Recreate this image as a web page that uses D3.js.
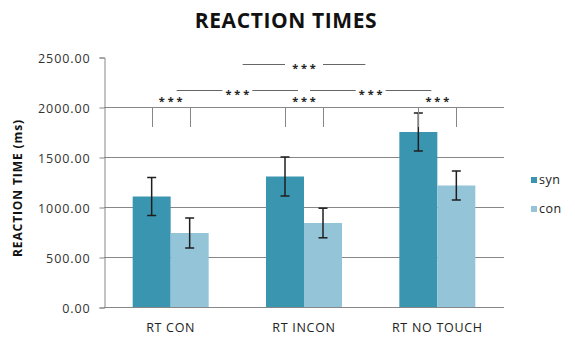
<!DOCTYPE html>
<html>
<head>
<meta charset="utf-8">
<script src="https://cdn.jsdelivr.net/npm/d3@7"></script>
<style>
  html, body { margin: 0; padding: 0; background: #fff; }
  svg { display: block; }
  text { font-family: "Open Sans", "DejaVu Sans", sans-serif; }
</style>
</head>
<body>
<svg id="chart" width="575" height="340"></svg>
<script>
// Mean reaction times (ms) per condition, with error margins
const categories = ["RT CON", "RT INCON", "RT NO TOUCH"];
const seriesNames = ["syn", "con"];
const synValues = [1105, 1305, 1750];
const conValues = [740, 840, 1215];
const synErrors = [190, 195, 190];
const conErrors = [150, 148, 145];
const yTicks = [0, 500, 1000, 1500, 2000, 2500];
const colors = ["#3a96b0", "#93c4d7"];

// Significance brackets: pairs of bars compared, and group-level comparisons
const pairSigLabel = "* * *";
const groupComparisons = [
  { from: 0, to: 1, level: 2170, inset: 6, gap: 15 },
  { from: 1, to: 2, level: 2170, inset: 6, gap: 15 },
  { from: 0, to: 2, level: 2430, inset: 72, gap: 19 }
];

const svg = d3.select("#chart");
const margin = { left: 104, right: 71, top: 57, bottom: 33 };
const W = 575, H = 340;

const x = d3.scaleBand()
  .domain(categories)
  .range([margin.left, W - margin.right])
  .paddingInner(0.43)
  .paddingOuter(0.215);

const xSub = d3.scaleBand()
  .domain(seriesNames)
  .range([0, x.bandwidth()]);

const y = d3.scaleLinear()
  .domain([0, 2500])
  .range([H - margin.bottom, margin.top]);

// Horizontal gridlines (no line at the top value)
svg.append("g")
  .selectAll("line")
  .data(yTicks.filter(t => t > 0 && t < 2500))
  .join("line")
  .attr("x1", margin.left)
  .attr("x2", W - margin.right)
  .attr("y1", d => Math.round(y(d)) + 0.5)
  .attr("y2", d => Math.round(y(d)) + 0.5)
  .attr("stroke", "#878787")
  .attr("stroke-width", 1);

// Y axis
const yAxis = d3.axisLeft(y)
  .tickValues(yTicks)
  .tickFormat(d3.format(".2f"))
  .tickSize(5)
  .tickPadding(9);
const gy = svg.append("g")
  .attr("transform", `translate(${margin.left + 0.5},0.5)`)
  .call(yAxis);
gy.select(".domain").attr("stroke", "#878787");
gy.selectAll(".tick line").attr("stroke", "#878787");
gy.selectAll(".tick text")
  .attr("fill", "#333")
  .attr("dy", "0.36em")
  .style("font-size", "12.5px")
  .style("letter-spacing", "0.9px")
  .style("font-family", "'Open Sans', sans-serif");

// Bars
const data = categories.map((c, i) => ({
  cat: c,
  values: [
    { s: "syn", v: synValues[i], e: synErrors[i] },
    { s: "con", v: conValues[i], e: conErrors[i] }
  ]
}));

const groups = svg.append("g")
  .selectAll("g")
  .data(data)
  .join("g")
  .attr("transform", d => `translate(${x(d.cat)},0)`);

groups.selectAll("rect")
  .data(d => d.values)
  .join("rect")
  .attr("x", d => xSub(d.s))
  .attr("width", xSub.bandwidth())
  .attr("y", d => y(d.v))
  .attr("height", d => y(0) - y(d.v))
  .attr("fill", (d, i) => colors[i]);

// Error bars
const cap = 4.5;
const eb = groups.selectAll("g.err")
  .data(d => d.values)
  .join("g")
  .attr("class", "err")
  .attr("stroke", "#1e1e1e")
  .attr("stroke-width", 1.5);
eb.append("line")
  .attr("x1", d => xSub(d.s) + xSub.bandwidth() / 2)
  .attr("x2", d => xSub(d.s) + xSub.bandwidth() / 2)
  .attr("y1", d => y(d.v + d.e))
  .attr("y2", d => y(d.v - d.e));
eb.append("line")
  .attr("x1", d => xSub(d.s) + xSub.bandwidth() / 2 - cap)
  .attr("x2", d => xSub(d.s) + xSub.bandwidth() / 2 + cap)
  .attr("y1", d => y(d.v + d.e))
  .attr("y2", d => y(d.v + d.e));
eb.append("line")
  .attr("x1", d => xSub(d.s) + xSub.bandwidth() / 2 - cap)
  .attr("x2", d => xSub(d.s) + xSub.bandwidth() / 2 + cap)
  .attr("y1", d => y(d.v - d.e))
  .attr("y2", d => y(d.v - d.e));

// X axis
const xAxis = d3.axisBottom(x).tickSize(0).tickPadding(16);
const gx = svg.append("g")
  .attr("transform", `translate(0,${y(0) + 0.5})`)
  .call(xAxis);
gx.select(".domain")
  .attr("stroke", "#878787")
  .attr("d", `M${margin.left},0H${W - margin.right}`);
gx.selectAll(".tick text")
  .attr("fill", "#222")
  .style("font-size", "12.5px")
  .style("letter-spacing", "0.7px")
  .style("font-family", "'Open Sans', sans-serif");

// Significance markers between the two bars of each group
const pairs = svg.append("g");
categories.forEach(c => {
  const cx = x(c) + x.bandwidth() / 2;
  const xs = x(c) + xSub("syn") + xSub.bandwidth() / 2;
  const xc = x(c) + xSub("con") + xSub.bandwidth() / 2;
  [xs, xc].forEach(px => {
    pairs.append("line")
      .attr("x1", Math.round(px) + 0.5).attr("x2", Math.round(px) + 0.5)
      .attr("y1", y(2000)).attr("y2", y(1800))
      .attr("stroke", "#878787").attr("stroke-width", 1);
  });
  pairs.append("text")
    .attr("x", cx).attr("y", y(2000) - 2)
    .attr("text-anchor", "middle")
    .attr("fill", "#222")
    .style("font-size", "11px")
    .style("font-weight", "bold")
    .text(pairSigLabel);
});

// Group-level comparisons: line with a gap for the label
const gc = svg.append("g");
groupComparisons.forEach(g => {
  const c1 = x(categories[g.from]) + x.bandwidth() / 2;
  const c2 = x(categories[g.to]) + x.bandwidth() / 2;
  const mid = (c1 + c2) / 2;
  const yy = Math.round(y(g.level)) + 0.5;
  gc.append("line")
    .attr("x1", c1 + g.inset).attr("x2", mid - g.gap)
    .attr("y1", yy).attr("y2", yy)
    .attr("stroke", "#666").attr("stroke-width", 1);
  gc.append("line")
    .attr("x1", mid + g.gap).attr("x2", c2 - g.inset)
    .attr("y1", yy).attr("y2", yy)
    .attr("stroke", "#666").attr("stroke-width", 1);
  gc.append("text")
    .attr("x", mid).attr("y", yy + 7)
    .attr("text-anchor", "middle")
    .attr("fill", "#222")
    .style("font-size", "11px")
    .style("font-weight", "bold")
    .text(pairSigLabel);
});

// Title
svg.append("text")
  .attr("x", 286).attr("y", 28)
  .attr("text-anchor", "middle")
  .attr("fill", "#111")
  .style("font-size", "21px")
  .style("font-weight", "bold")
  .style("letter-spacing", "0.6px")
  .text("REACTION TIMES");

// Y axis title
svg.append("text")
  .attr("transform", `translate(22,${(y(0) + y(2500)) / 2 + 6}) rotate(-90)`)
  .attr("text-anchor", "middle")
  .attr("fill", "#111")
  .style("font-size", "12px")
  .style("font-weight", "bold")
  .style("letter-spacing", "0.9px")
  .text("REACTION TIME (ms)");

// Legend
const legend = svg.append("g")
  .selectAll("g")
  .data(seriesNames)
  .join("g")
  .attr("transform", (d, i) => `translate(531,${177 + i * 29})`);
legend.append("rect")
  .attr("width", 6).attr("height", 6)
  .attr("fill", (d, i) => colors[i]);
legend.append("text")
  .attr("x", 8).attr("y", 7)
  .attr("fill", "#222")
  .style("font-size", "12.5px")
  .style("letter-spacing", "0.5px")
  .text(d => d);
</script>
</body>
</html>
